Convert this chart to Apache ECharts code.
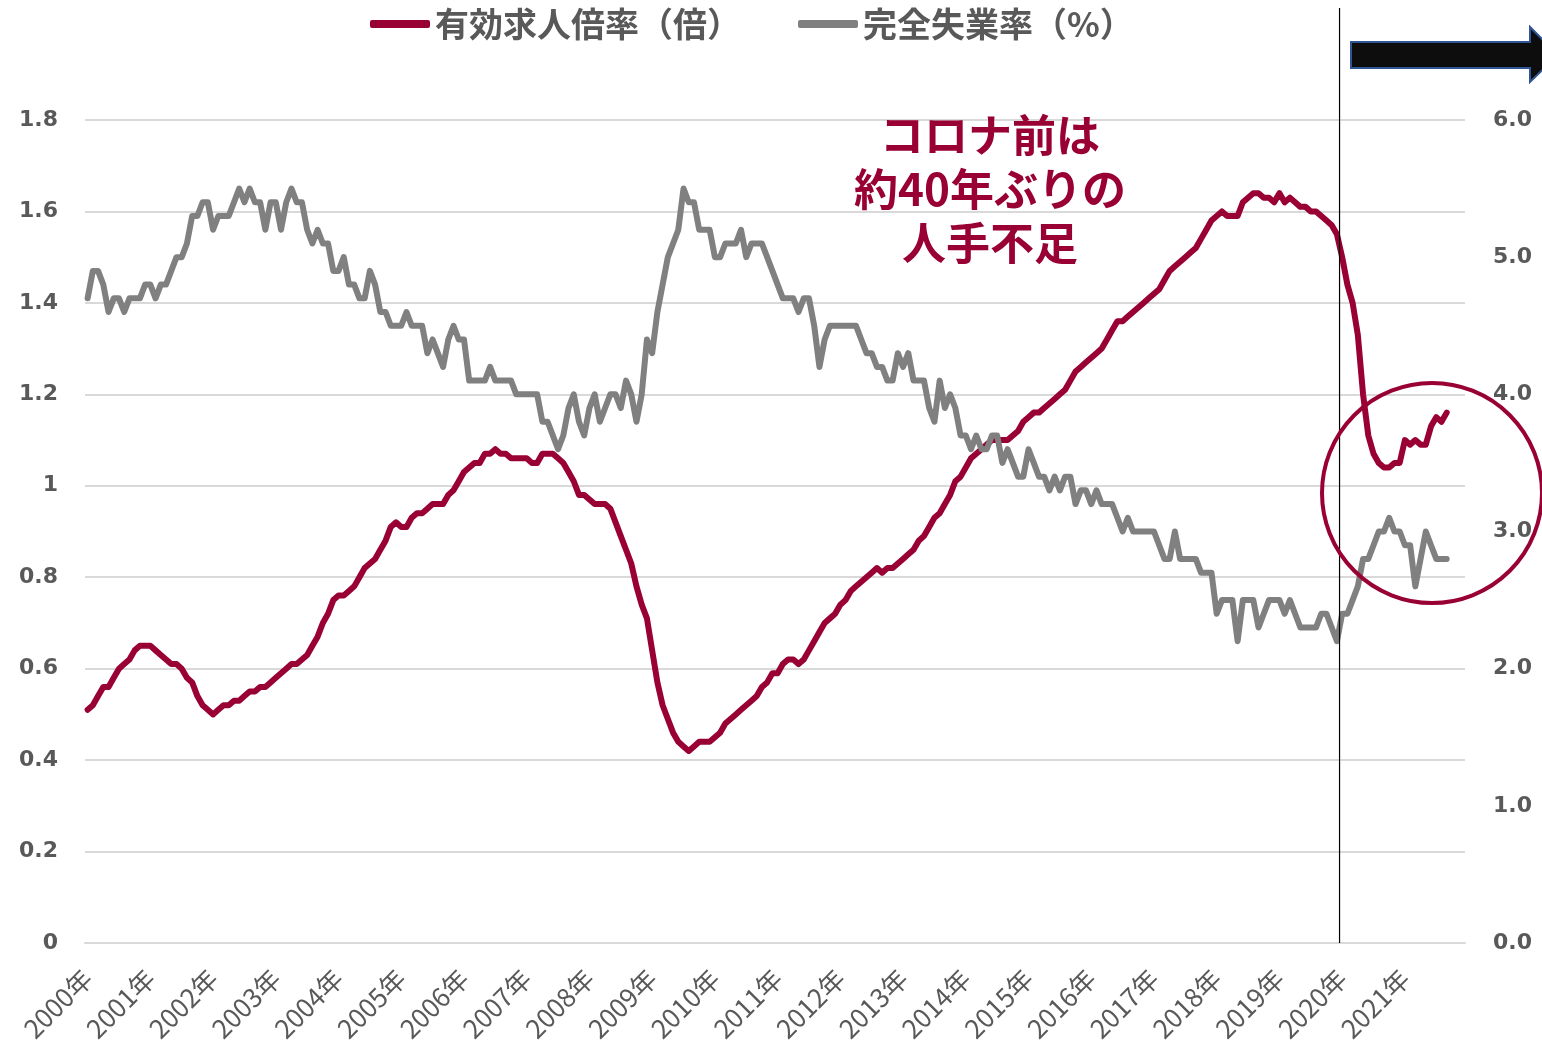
<!DOCTYPE html>
<html>
<head>
<meta charset="utf-8">
<script src="https://cdn.jsdelivr.net/npm/echarts@6/dist/echarts.min.js"></script>
<style>
html,body{margin:0;padding:0;background:#fff;}
#chart{width:1542px;height:1053px;}
</style>
</head>
<body>
<div id="chart"></div>
<script>
// ---- data ----
const years = [2000,2001,2002,2003,2004,2005,2006,2007,2008,2009,2010,2011,2012,2013,2014,2015,2016,2017,2018,2019,2020,2021];
const seriesNames = ['有効求人倍率（倍）', '完全失業率（%）'];
const leftTicks = [0, 0.2, 0.4, 0.6, 0.8, 1.0, 1.2, 1.4, 1.6, 1.8];
const rightTicks = [0, 1, 2, 3, 4, 5, 6];
const annotationText = ['コロナ前は', '約40年ぶりの', '人手不足'];

// 有効求人倍率 (monthly, Jan 2000 - Sep 2021)
const jobsRatio = [
  0.51,0.52,0.54,0.56,0.56,0.58,0.60,0.61,0.62,0.64,0.65,0.65,
  0.65,0.64,0.63,0.62,0.61,0.61,0.60,0.58,0.57,0.54,0.52,0.51,
  0.50,0.51,0.52,0.52,0.53,0.53,0.54,0.55,0.55,0.56,0.56,0.57,
  0.58,0.59,0.60,0.61,0.61,0.62,0.63,0.65,0.67,0.70,0.72,0.75,
  0.76,0.76,0.77,0.78,0.80,0.82,0.83,0.84,0.86,0.88,0.91,0.92,
  0.91,0.91,0.93,0.94,0.94,0.95,0.96,0.96,0.96,0.98,0.99,1.01,
  1.03,1.04,1.05,1.05,1.07,1.07,1.08,1.07,1.07,1.06,1.06,1.06,
  1.06,1.05,1.05,1.07,1.07,1.07,1.06,1.05,1.03,1.01,0.98,0.98,
  0.97,0.96,0.96,0.96,0.95,0.92,0.89,0.86,0.83,0.78,0.74,0.71,
  0.64,0.57,0.52,0.49,0.46,0.44,0.43,0.42,0.43,0.44,0.44,0.44,
  0.45,0.46,0.48,0.49,0.50,0.51,0.52,0.53,0.54,0.56,0.57,0.59,
  0.59,0.61,0.62,0.62,0.61,0.62,0.64,0.66,0.68,0.70,0.71,0.72,
  0.74,0.75,0.77,0.78,0.79,0.80,0.81,0.82,0.81,0.82,0.82,0.83,
  0.84,0.85,0.86,0.88,0.89,0.91,0.93,0.94,0.96,0.98,1.01,1.02,
  1.04,1.06,1.07,1.08,1.09,1.10,1.10,1.10,1.10,1.11,1.12,1.14,
  1.15,1.16,1.16,1.17,1.18,1.19,1.20,1.21,1.23,1.25,1.26,1.27,
  1.28,1.29,1.30,1.32,1.34,1.36,1.36,1.37,1.38,1.39,1.40,1.41,
  1.42,1.43,1.45,1.47,1.48,1.49,1.50,1.51,1.52,1.54,1.56,1.58,
  1.59,1.60,1.59,1.59,1.59,1.62,1.63,1.64,1.64,1.63,1.63,1.62,
  1.64,1.62,1.63,1.62,1.61,1.61,1.60,1.60,1.59,1.58,1.57,1.55,
  1.50,1.44,1.40,1.33,1.20,1.11,1.07,1.05,1.04,1.04,1.05,1.05,
  1.10,1.09,1.10,1.09,1.09,1.13,1.15,1.14,1.16
];

// 完全失業率 (monthly, Jan 2000 - Sep 2021)
const unemployment = [
  4.7,4.9,4.9,4.8,4.6,4.7,4.7,4.6,4.7,4.7,4.7,4.8,
  4.8,4.7,4.8,4.8,4.9,5.0,5.0,5.1,5.3,5.3,5.4,5.4,
  5.2,5.3,5.3,5.3,5.4,5.5,5.4,5.5,5.4,5.4,5.2,5.4,
  5.4,5.2,5.4,5.5,5.4,5.4,5.2,5.1,5.2,5.1,5.1,4.9,
  4.9,5.0,4.8,4.8,4.7,4.7,4.9,4.8,4.6,4.6,4.5,4.5,
  4.5,4.6,4.5,4.5,4.5,4.3,4.4,4.3,4.2,4.4,4.5,4.4,
  4.4,4.1,4.1,4.1,4.1,4.2,4.1,4.1,4.1,4.1,4.0,4.0,
  4.0,4.0,4.0,3.8,3.8,3.7,3.6,3.7,3.9,4.0,3.8,3.7,
  3.9,4.0,3.8,3.9,4.0,4.0,3.9,4.1,4.0,3.8,4.0,4.4,
  4.3,4.6,4.8,5.0,5.1,5.2,5.5,5.4,5.4,5.2,5.2,5.2,
  5.0,5.0,5.1,5.1,5.1,5.2,5.0,5.1,5.1,5.1,5.0,4.9,
  4.8,4.7,4.7,4.7,4.6,4.7,4.7,4.5,4.2,4.4,4.5,4.5,
  4.5,4.5,4.5,4.5,4.4,4.3,4.3,4.2,4.2,4.1,4.1,4.3,
  4.2,4.3,4.1,4.1,4.1,3.9,3.8,4.1,3.9,4.0,3.9,3.7,
  3.7,3.6,3.7,3.6,3.6,3.7,3.7,3.5,3.6,3.5,3.4,3.4,
  3.6,3.5,3.4,3.4,3.3,3.4,3.3,3.4,3.4,3.2,3.3,3.3,
  3.2,3.3,3.2,3.2,3.2,3.1,3.0,3.1,3.0,3.0,3.0,3.0,
  3.0,2.9,2.8,2.8,3.0,2.8,2.8,2.8,2.8,2.7,2.7,2.7,
  2.4,2.5,2.5,2.5,2.2,2.5,2.5,2.5,2.3,2.4,2.5,2.5,
  2.5,2.4,2.5,2.4,2.3,2.3,2.3,2.3,2.4,2.4,2.3,2.2,
  2.4,2.4,2.5,2.6,2.8,2.8,2.9,3.0,3.0,3.1,3.0,3.0,
  2.9,2.9,2.6,2.8,3.0,2.9,2.8,2.8,2.8
];

// ---- build categories (one per month) ----
const months = [];
years.forEach(y => { for (let m = 1; m <= 12; m++) months.push(y + '年' + m + '月'); });

const RED = '#990033';
const GRAY = '#808080';
const TXT = '#595959';
const CJK = '"Noto Sans CJK JP", "Noto Sans", sans-serif';

const chart = echarts.init(document.getElementById('chart'), null, {renderer: 'canvas'});

const option = {
  animation: false,
  backgroundColor: '#ffffff',
  legend: {
    data: seriesNames,
    left: 365,
    top: 2,
    icon: 'roundRect',
    itemWidth: 60,
    itemHeight: 8,
    itemGap: 57,
    textStyle: {color: TXT, fontSize: 34, fontWeight: 'bold', fontFamily: CJK}
  },
  grid: {left: 85, right: 77, top: 120, bottom: 110, containLabel: false},
  xAxis: {
    type: 'category',
    data: months,
    boundaryGap: true,
    axisLine: {show: true, lineStyle: {color: '#d9d9d9', width: 2}},
    axisTick: {show: false},
    axisLabel: {
      interval: 11,
      rotate: 45,
      margin: 31,
      color: TXT,
      fontSize: 26,
      fontFamily: CJK,
      formatter: v => v.split('年')[0] + '年'
    },
    splitLine: {show: false}
  },
  yAxis: [
    {
      type: 'value',
      min: leftTicks[0],
      max: leftTicks[leftTicks.length - 1],
      interval: 0.2,
      axisLine: {show: false},
      axisTick: {show: false},
      axisLabel: {
        margin: 27,
        color: TXT,
        fontSize: 22,
        fontWeight: 'bold',
        fontFamily: '"DejaVu Sans", sans-serif',
        formatter: v => String(Math.round(v * 10) / 10)
      },
      splitLine: {show: true, lineStyle: {color: '#d9d9d9', width: 2}}
    },
    {
      type: 'value',
      min: rightTicks[0],
      max: rightTicks[rightTicks.length - 1],
      interval: 1,
      axisLine: {show: false},
      axisTick: {show: false},
      axisLabel: {
        margin: 28,
        color: TXT,
        fontSize: 22,
        fontWeight: 'bold',
        fontFamily: '"DejaVu Sans", sans-serif',
        formatter: v => v.toFixed(1)
      },
      splitLine: {show: false}
    }
  ],
  series: [
    {
      name: seriesNames[0],
      type: 'line',
      yAxisIndex: 0,
      data: jobsRatio,
      symbol: 'none',
      color: RED,
      lineStyle: {color: RED, width: 6, cap: 'round', join: 'round'},
      z: 3
    },
    {
      name: seriesNames[1],
      type: 'line',
      yAxisIndex: 1,
      data: unemployment,
      symbol: 'none',
      color: GRAY,
      lineStyle: {color: GRAY, width: 6, cap: 'round', join: 'round'},
      z: 4
    }
  ]
};
chart.setOption(option);

// vertical divider between Dec 2019 and Jan 2020, located through the axis scale
const xA = chart.convertToPixel({xAxisIndex: 0}, months.indexOf('2019年12月'));
const xB = chart.convertToPixel({xAxisIndex: 0}, months.indexOf('2020年1月'));
const xDiv = (xA + xB) / 2;
const yBottom = chart.convertToPixel({yAxisIndex: 0}, 0);

chart.setOption({
  graphic: [
    {
      type: 'line',
      shape: {x1: xDiv, y1: 8, x2: xDiv, y2: yBottom},
      style: {stroke: '#000', lineWidth: 1.2},
      z: 10
    },
    {
      type: 'circle',
      shape: {cx: 1432, cy: 493, r: 110},
      style: {fill: 'none', stroke: RED, lineWidth: 4},
      z: 10
    },
    {
      type: 'polygon',
      shape: {points: [[1351, 42], [1530, 42], [1530, 27], [1558, 55], [1530, 82], [1530, 68], [1351, 68]]},
      style: {fill: '#0d0d0d', stroke: '#2f5597', lineWidth: 2},
      z: 10
    },
    {
      type: 'text',
      x: 990,
      y: 108,
      style: {
        text: annotationText.join('\n'),
        fill: RED,
        font: 'bold 44px "Noto Sans CJK JP", sans-serif',
        lineHeight: 54,
        align: 'center',
        verticalAlign: 'top'
      },
      z: 10
    }
  ]
});
</script>
</body>
</html>
